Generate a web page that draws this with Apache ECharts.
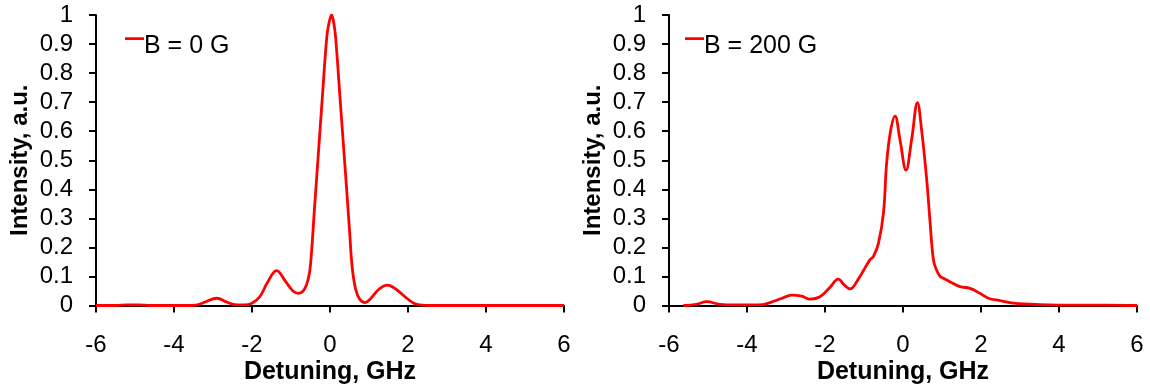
<!DOCTYPE html>
<html>
<head>
<meta charset="utf-8">
<script src="https://cdn.jsdelivr.net/npm/echarts@6/dist/echarts.min.js"></script>
<style>
  html, body { margin: 0; padding: 0; background: #fff; }
  #chart { width: 1150px; height: 385px; }
</style>
</head>
<body>
<div id="chart"></div>
<script>
// Spectra: intensity versus detuning, without field and at 200 G
const seriesNames = ['B = 0 G', 'B = 200 G'];

const detuning0 = [-6, -5.5, -5.2, -4.9, -4.6, -4, -3.6, -3.4, -3.2, -2.9, -2.65, -2.45, -2.2, -2.0, -1.8, -1.6,
  -1.37, -1.15, -0.95, -0.8, -0.66, -0.56, -0.5, -0.4, -0.3, -0.2, -0.085, -0.03, 0.04, 0.1, 0.146, 0.27,
  0.4, 0.5, 0.57, 0.66, 0.77, 0.9, 1.05, 1.25, 1.47, 1.7, 1.97, 2.15, 2.3, 2.6, 3, 4, 5, 6];
const intensity0 = [0, 0, 0.002, 0.002, 0, 0, 0, 0.002, 0.012, 0.025, 0.012, 0.003, 0.002, 0.008, 0.03, 0.08,
  0.12, 0.085, 0.05, 0.042, 0.055, 0.09, 0.14, 0.33, 0.52, 0.71, 0.92, 0.97, 1.0, 0.97, 0.92, 0.69,
  0.45, 0.26, 0.13, 0.055, 0.02, 0.01, 0.025, 0.055, 0.07, 0.055, 0.025, 0.008, 0.002, 0, 0, 0, 0, 0];

const detuning200 = [-5.63, -5.3, -5.03, -4.7, -4.3, -3.9, -3.6, -3.41, -3.1, -2.85, -2.6, -2.38, -2.13, -1.87,
  -1.66, -1.5, -1.36, -1.15, -0.85, -0.76, -0.63, -0.5, -0.42, -0.32, -0.205, -0.077, 0.077, 0.22, 0.37,
  0.48, 0.61, 0.69, 0.78, 0.86, 0.95, 1.03, 1.2, 1.46, 1.72, 1.97, 2.19, 2.49, 2.83, 3.5, 4.5, 5.1, 6];
const intensity200 = [0, 0.004, 0.013, 0.004, 0.002, 0.002, 0.003, 0.01, 0.025, 0.036, 0.032, 0.022, 0.03, 0.063,
  0.091, 0.07, 0.057, 0.09, 0.157, 0.168, 0.214, 0.32, 0.49, 0.6, 0.652, 0.57, 0.466, 0.57, 0.698,
  0.6, 0.43, 0.294, 0.157, 0.122, 0.1, 0.094, 0.082, 0.065, 0.059, 0.042, 0.025, 0.017, 0.008, 0.003, 0.001, 0.001, 0];

const xRange = { min: -6, max: 6, interval: 2 };
const yRange = { min: 0, max: 1, interval: 0.1 };
const xTitle = 'Detuning, GHz';
const yTitle = 'Intensity, a.u.';

const FONT = '"Liberation Sans", Arial, sans-serif';
const zip = (xs, ys) => xs.map((x, i) => [x, ys[i]]);

// legend key: a short bar sitting high beside the label (the empty sub-path sets the box height)
const LEGEND_ICON = 'path://M0,0L19,0L19,2.6L0,2.6Z M0,17.4L0.01,17.4Z';

function xAxis(gridIndex) {
  return {
    type: 'value', gridIndex,
    min: xRange.min, max: xRange.max, interval: xRange.interval,
    name: xTitle, nameLocation: 'middle', nameGap: 54, nameMoveOverlap: false,
    nameTextStyle: { fontFamily: FONT, fontSize: 25, fontWeight: 'bold', color: '#000' },
    axisLine: { onZero: false, lineStyle: { color: '#000', width: 2 } },
    axisTick: { length: 7, lineStyle: { color: '#000', width: 2 } },
    axisLabel: { margin: 28, fontFamily: FONT, fontSize: 24, color: '#000' },
    splitLine: { show: false }
  };
}
function yAxis(gridIndex) {
  return {
    type: 'value', gridIndex,
    min: yRange.min, max: yRange.max, interval: yRange.interval,
    name: yTitle, nameLocation: 'middle', nameGap: 64, nameMoveOverlap: false,
    nameTextStyle: { fontFamily: FONT, fontSize: 24, fontWeight: 'bold', color: '#000' },
    axisLine: { show: true, onZero: false, lineStyle: { color: '#000', width: 2 } },
    axisTick: { show: true, length: 7, lineStyle: { color: '#000', width: 2 } },
    axisLabel: { margin: 23, fontFamily: FONT, fontSize: 24, color: '#000' },
    splitLine: { show: false }
  };
}
function legend(name, left) {
  return {
    data: [name], left, top: 33.5, padding: 0, orient: 'horizontal',
    icon: LEGEND_ICON, itemWidth: 19, itemHeight: 17.4,
    itemStyle: { color: '#ff0000', borderWidth: 0 },
    textStyle: { fontFamily: FONT, fontSize: 25, color: '#000', padding: [0, 0, 0, -5] }
  };
}
function line(name, idx, data) {
  return {
    name, type: 'line', xAxisIndex: idx, yAxisIndex: idx, data,
    smooth: 0.4, showSymbol: false, symbol: 'none',
    lineStyle: { color: '#ff0000', width: 2.8 }, itemStyle: { color: '#ff0000' },
    z: 5
  };
}

const chart = echarts.init(document.getElementById('chart'), null, { renderer: 'canvas' });
chart.setOption({
  backgroundColor: '#fff',
  animation: false,
  grid: [
    { left: 96, right: 586, top: 15, bottom: 79.5, containLabel: false, outerBoundsMode: 'none' },
    { left: 669, right: 13, top: 15, bottom: 79.5, containLabel: false, outerBoundsMode: 'none' }
  ],
  legend: [legend(seriesNames[0], 125), legend(seriesNames[1], 685)],
  xAxis: [xAxis(0), xAxis(1)],
  yAxis: [yAxis(0), yAxis(1)],
  series: [
    line(seriesNames[0], 0, zip(detuning0, intensity0)),
    line(seriesNames[1], 1, zip(detuning200, intensity200))
  ]
});
</script>
</body>
</html>
